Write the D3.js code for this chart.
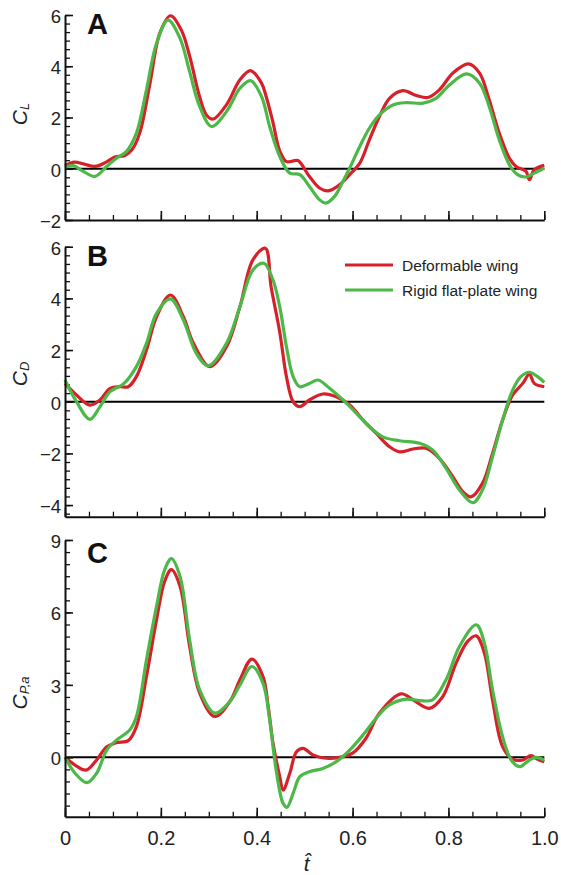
<!DOCTYPE html>
<html>
<head>
<meta charset="utf-8">
<script src="https://cdn.jsdelivr.net/npm/d3@7"></script>
<style>
  html, body { margin: 0; padding: 0; background: #fff; }
  svg { display: block; font-family: "Liberation Sans", Arial, Helvetica, sans-serif; }
</style>
</head>
<body>
<svg id="chart" width="561" height="875"></svg>
<script>
// ---------------- data ----------------
const tTicks = [0, 0.2, 0.4, 0.6, 0.8, 1.0];
const tTickLabels = ["0", "0.2", "0.4", "0.6", "0.8", "1.0"];
const clTicks = [-2, 0, 2, 4, 6];
const cdTicks = [-4, -2, 0, 2, 4, 6];
const cpTicks = [0, 3, 6, 9];
const seriesNames = ["Deformable wing", "Rigid flat-plate wing"];
const panelLetters = ["A", "B", "C"];

// [t̂, value]
const CL_deformable = [[0,0.12],[0.02,0.26],[0.04,0.18],[0.0625,0.09],[0.085,0.25],[0.104,0.46],[0.125,0.52],[0.14,0.75],[0.156,1.4],[0.177,3.3],[0.198,5.3],[0.22,5.97],[0.243,5.4],[0.26,4.4],[0.281,2.8],[0.295,2.1],[0.309,1.94],[0.337,2.5],[0.365,3.47],[0.387,3.83],[0.41,3.34],[0.42,2.8],[0.434,1.8],[0.448,0.7],[0.462,0.28],[0.475,0.3],[0.486,0.32],[0.51,-0.3],[0.531,-0.75],[0.549,-0.86],[0.573,-0.62],[0.594,-0.23],[0.615,0.22],[0.635,1.13],[0.656,2.04],[0.677,2.75],[0.705,3.05],[0.733,2.86],[0.757,2.78],[0.781,3.08],[0.809,3.73],[0.842,4.09],[0.865,3.73],[0.885,2.69],[0.906,1.39],[0.927,0.42],[0.941,0.09],[0.962,-0.1],[0.969,-0.43],[0.979,-0.04],[1.0,0.13]];
const CL_rigid = [[0,0.05],[0.017,0.12],[0.038,-0.1],[0.0625,-0.3],[0.087,0.09],[0.108,0.42],[0.128,0.67],[0.149,1.39],[0.17,3.08],[0.191,4.9],[0.215,5.8],[0.24,5.09],[0.26,3.79],[0.281,2.43],[0.306,1.65],[0.337,2.23],[0.365,3.14],[0.387,3.44],[0.41,2.82],[0.427,1.65],[0.448,0.48],[0.469,-0.17],[0.49,-0.23],[0.51,-0.69],[0.531,-1.21],[0.544,-1.34],[0.5625,-1.08],[0.58,-0.49],[0.594,0.03],[0.615,0.87],[0.635,1.58],[0.656,2.1],[0.684,2.49],[0.712,2.58],[0.747,2.56],[0.774,2.75],[0.802,3.27],[0.838,3.7],[0.865,3.34],[0.885,2.43],[0.906,1.13],[0.927,0.16],[0.944,-0.23],[0.962,-0.32],[0.979,-0.17],[1.0,0.03]];

const CD_deformable = [[0,0.71],[0.024,0.26],[0.052,-0.13],[0.073,0.07],[0.094,0.52],[0.115,0.58],[0.132,0.58],[0.149,0.97],[0.17,2.0],[0.191,3.29],[0.22,4.13],[0.247,3.29],[0.268,2.26],[0.302,1.36],[0.337,2.13],[0.365,3.68],[0.392,5.49],[0.418,5.94],[0.43,4.45],[0.448,2.7],[0.462,0.97],[0.476,0.0],[0.49,-0.19],[0.51,0.07],[0.538,0.3],[0.566,0.19],[0.594,-0.13],[0.622,-0.71],[0.649,-1.22],[0.677,-1.74],[0.698,-1.94],[0.726,-1.83],[0.753,-1.8],[0.781,-2.19],[0.809,-2.9],[0.83,-3.48],[0.847,-3.68],[0.871,-3.16],[0.892,-2.0],[0.913,-0.71],[0.934,0.26],[0.955,0.71],[0.969,1.07],[0.979,0.71],[1.0,0.58]];
const CD_rigid = [[0,0.84],[0.024,0],[0.052,-0.68],[0.073,-0.19],[0.094,0.39],[0.122,0.69],[0.149,1.36],[0.17,2.26],[0.191,3.42],[0.22,3.98],[0.247,3.16],[0.274,1.87],[0.299,1.39],[0.337,2.26],[0.365,3.68],[0.392,5.1],[0.415,5.36],[0.434,4.71],[0.448,3.68],[0.462,2.13],[0.476,0.97],[0.49,0.58],[0.51,0.71],[0.528,0.84],[0.552,0.52],[0.58,0.07],[0.608,-0.45],[0.635,-0.97],[0.663,-1.36],[0.698,-1.51],[0.74,-1.61],[0.767,-1.87],[0.795,-2.58],[0.823,-3.42],[0.851,-3.91],[0.871,-3.42],[0.892,-2.13],[0.913,-0.71],[0.934,0.45],[0.951,0.97],[0.969,1.14],[0.986,0.97],[1.0,0.75]];

const CP_deformable = [[0,0],[0.021,-0.32],[0.044,-0.53],[0.066,-0.11],[0.087,0.44],[0.108,0.61],[0.132,0.69],[0.149,1.27],[0.17,3.35],[0.191,5.7],[0.208,7.29],[0.222,7.77],[0.24,7.08],[0.26,4.59],[0.281,2.66],[0.3125,1.69],[0.344,2.31],[0.365,3.21],[0.39,4.07],[0.413,3.35],[0.424,2.1],[0.434,0.58],[0.448,-0.8],[0.455,-1.36],[0.469,-0.66],[0.483,0.23],[0.497,0.37],[0.517,0.1],[0.545,-0.04],[0.573,0],[0.6,0.17],[0.628,0.79],[0.656,1.83],[0.701,2.63],[0.726,2.38],[0.76,2.03],[0.788,2.51],[0.816,3.9],[0.84,4.8],[0.858,5.03],[0.875,4.32],[0.892,2.38],[0.913,0.44],[0.934,-0.08],[0.955,-0.11],[0.972,0.07],[0.986,-0.08],[1.0,-0.18]];
const CP_rigid = [[0,0],[0.021,-0.66],[0.046,-1.05],[0.066,-0.66],[0.087,0.3],[0.108,0.72],[0.135,1.13],[0.149,1.69],[0.17,4.04],[0.191,6.25],[0.208,7.77],[0.222,8.23],[0.24,7.49],[0.26,4.87],[0.281,2.79],[0.3125,1.83],[0.344,2.31],[0.365,3.0],[0.39,3.76],[0.413,3.07],[0.427,1.55],[0.4375,-0.11],[0.448,-1.4],[0.455,-1.91],[0.463,-2.07],[0.476,-1.49],[0.49,-0.8],[0.51,-0.6],[0.538,-0.46],[0.566,-0.18],[0.594,0.3],[0.622,0.93],[0.649,1.62],[0.677,2.17],[0.712,2.41],[0.74,2.35],[0.767,2.38],[0.795,3.21],[0.823,4.59],[0.858,5.49],[0.875,4.73],[0.892,2.79],[0.913,0.85],[0.931,-0.11],[0.948,-0.39],[0.969,-0.11],[0.983,0],[1.0,-0.11]];

// ---------------- layout ----------------
const COLORS = ["#d7212a", "#4cb848"];
const svg = d3.select("#chart");
const x = d3.scaleLinear().domain([0, 1]).range([65, 544.3]);

const panels = [
  { letter: panelLetters[0], yDomain: [-2, 6], yRange: [220, 15], ticks: clTicks, minorStep: 1/3,
    sub: "L", titleY: 114, letterY: 34, series: [CL_deformable, CL_rigid] },
  { letter: panelLetters[1], yDomain: [-4.45, 6], yRange: [516.7, 246.7], ticks: cdTicks, minorStep: 1/3,
    sub: "D", titleY: 374, letterY: 266, series: [CD_deformable, CD_rigid], legend: true },
  { letter: panelLetters[2], yDomain: [-2.46, 9], yRange: [816.7, 540], ticks: cpTicks, minorStep: 0.5,
    sub: "P,a", titleY: 693, letterY: 563, series: [CP_deformable, CP_rigid], xLabels: true }
];

const FONT = "'Liberation Sans', Arial, sans-serif";

panels.forEach((p) => {
  const y = d3.scaleLinear().domain(p.yDomain).range(p.yRange);
  const g = svg.append("g");
  const yBottom = p.yRange[0];

  // minor ticks (y)
  const minorY = [];
  const lo = p.ticks[0];
  for (let k = -30; k <= 60; k++) {
    const v = lo + k * p.minorStep;
    if (v >= p.yDomain[0] - 1e-6 && v <= p.yDomain[1] + 1e-6) minorY.push(v);
  }
  g.append("g").attr("transform", `translate(${x(0)},0)`)
    .call(d3.axisLeft(y).tickValues(minorY).tickSize(-5).tickSizeOuter(0).tickFormat(() => ""))
    .call(s => s.select(".domain").remove())
    .call(s => s.selectAll("line").attr("stroke", "#111").attr("stroke-width", 1.3));

  // minor ticks (x)
  const minorX = d3.range(0, 1.0001, 0.05);
  g.append("g").attr("transform", `translate(0,${yBottom})`)
    .call(d3.axisBottom(x).tickValues(minorX).tickSize(-5).tickSizeOuter(0).tickFormat(() => ""))
    .call(s => s.select(".domain").remove())
    .call(s => s.selectAll("line").attr("stroke", "#111").attr("stroke-width", 1.3));

  // zero line
  g.append("line")
    .attr("x1", x(0)).attr("x2", x(1))
    .attr("y1", y(0)).attr("y2", y(0))
    .attr("stroke", "#000").attr("stroke-width", 2);

  // curves
  const line = d3.line().x(d => x(d[0])).y(d => y(d[1])).curve(d3.curveCatmullRom.alpha(0.5));
  p.series.forEach((s, i) => {
    g.append("path").datum(s)
      .attr("fill", "none")
      .attr("stroke", COLORS[i])
      .attr("stroke-width", 3.2)
      .attr("stroke-linejoin", "round")
      .attr("d", line);
  });

  // major y axis
  g.append("g").attr("transform", `translate(${x(0)},0)`)
    .call(d3.axisLeft(y).tickValues(p.ticks).tickSize(-8).tickSizeOuter(0).tickPadding(4).tickFormat(d3.format("")))
    .call(s => s.select(".domain").attr("stroke", "#111").attr("stroke-width", 2))
    .call(s => s.selectAll("line").attr("stroke", "#111").attr("stroke-width", 1.6))
    .call(s => s.selectAll("text").attr("font-size", 18.5).attr("fill", "#222")
      .attr("font-family", FONT).attr("dy", "0.4em"));

  // major x axis
  g.append("g").attr("transform", `translate(0,${yBottom})`)
    .call(d3.axisBottom(x).tickValues(tTicks).tickSize(-9).tickSizeOuter(0).tickPadding(14)
      .tickFormat((d, i) => p.xLabels ? tTickLabels[i] : ""))
    .call(s => s.select(".domain").attr("stroke", "#111").attr("stroke-width", 2))
    .call(s => s.selectAll("line").attr("stroke", "#111").attr("stroke-width", 1.6))
    .call(s => s.selectAll("text").attr("font-size", 20).attr("fill", "#222").attr("font-family", FONT));

  // panel letter
  g.append("text").attr("x", 87).attr("y", p.letterY)
    .attr("font-size", 29).attr("font-weight", "bold").attr("fill", "#111")
    .text(p.letter);

  // y title
  const t = g.append("text")
    .attr("transform", `translate(27,${p.titleY}) rotate(-90)`)
    .attr("text-anchor", "middle").attr("fill", "#222");
  t.append("tspan").attr("font-style", "italic").attr("font-size", 21).text("C");
  t.append("tspan").attr("font-style", "italic").attr("font-size", 13).attr("dy", 2).text(p.sub);

  // legend
  if (p.legend) {
    const lg = g.append("g");
    seriesNames.forEach((name, i) => {
      const ly = 265 + i * 25;
      lg.append("line").attr("x1", 345).attr("x2", 393).attr("y1", ly).attr("y2", ly)
        .attr("stroke", COLORS[i]).attr("stroke-width", 3.2);
      lg.append("text").attr("x", 402).attr("y", ly).attr("dy", "0.36em")
        .attr("font-size", 15.5).attr("fill", "#222").text(name);
    });
  }
});

// x title
svg.append("text").attr("x", x(0.5) + 2).attr("y", 871)
  .attr("text-anchor", "middle").attr("font-style", "italic").attr("font-size", 21)
  .attr("fill", "#222").text("t\u0302");
</script>
</body>
</html>
